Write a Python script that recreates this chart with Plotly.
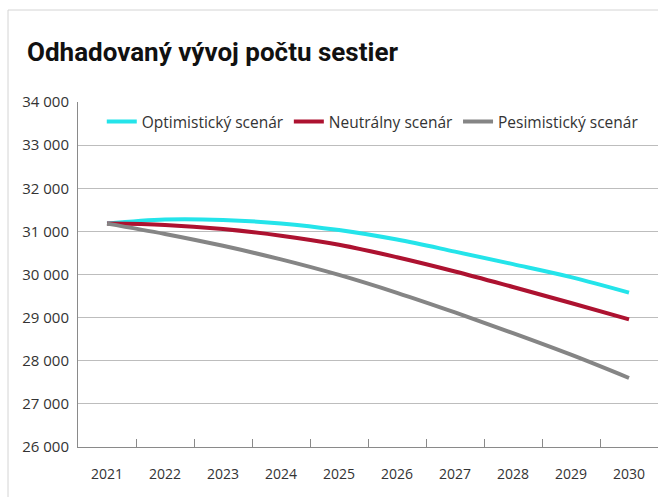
import plotly.graph_objects as go

# years and the three scenarios (number of nurses)
years = ["2021", "2022", "2023", "2024", "2025", "2026", "2027", "2028", "2029", "2030"]
optimisticky = [31180, 31275, 31265, 31185, 31030, 30810, 30530, 30240, 29940, 29580]
neutralny = [31180, 31150, 31055, 30900, 30690, 30400, 30070, 29710, 29340, 28960]
pesimisticky = [31180, 30940, 30665, 30350, 29990, 29575, 29120, 28640, 28140, 27600]

series_names = ["Optimistický scenár", "Neutrálny scenár", "Pesimistický scenár"]
series_colors = ["#24e4ea", "#ad1230", "#858585"]

fig = go.Figure()
for name, vals, col in zip(series_names, [optimisticky, neutralny, pesimisticky], series_colors):
    fig.add_trace(go.Scatter(x=years, y=vals, name=name, mode="lines",
                             line=dict(color=col, width=4, shape="spline")))

fig.update_layout(
    width=658, height=497,
    margin=dict(l=78, r=0, t=102, b=50),
    paper_bgcolor="white", plot_bgcolor="white",
    separators=", ",
    font=dict(family="Open Sans", size=14, color="#333333"),
    title=dict(text="<b>Odhadovaný vývoj počtu sestier</b>",
               x=27 / 658, xanchor="left", y=1 - 52 / 497, yanchor="middle",
               font=dict(family="Roboto", size=26, color="#111111")),
    legend=dict(orientation="h", x=0.041, xanchor="left", y=0.942, yanchor="middle",
                bgcolor="rgba(0,0,0,0)", font=dict(size=15.5, color="#333333"),
                itemwidth=30, tracegroupgap=0),
    showlegend=True,
)

fig.update_xaxes(type="category", range=[-0.5, 9.5], showgrid=False,
                 showline=True, linecolor="#8a8a8a", linewidth=1,
                 ticks="inside", tickson="boundaries", ticklen=8, tickcolor="#8a8a8a",
                 ticklabelstandoff=14, tickfont=dict(size=14, color="#333333"))
fig.update_yaxes(range=[26000, 34000], dtick=1000, tickformat=",d",
                 showgrid=True, gridcolor="#bdbdbd", gridwidth=1,
                 showline=True, linecolor="#8a8a8a", linewidth=1,
                 ticks="", ticklabelstandoff=5, zeroline=False,
                 tickfont=dict(size=15, color="#333333"))

# card border (top and left edges are visible)
fig.add_shape(type="rect", xref="paper", yref="paper",
              x0=(8 - 78) / 580, x1=1.5, y0=-0.5, y1=(447 - 10) / 345,
              line=dict(color="#d4d4d4", width=1), layer="below")

fig.write_html("out.html", config={"displayModeBar": False},
               post_script="document.body.style.margin='0';document.body.style.overflow='hidden';")
